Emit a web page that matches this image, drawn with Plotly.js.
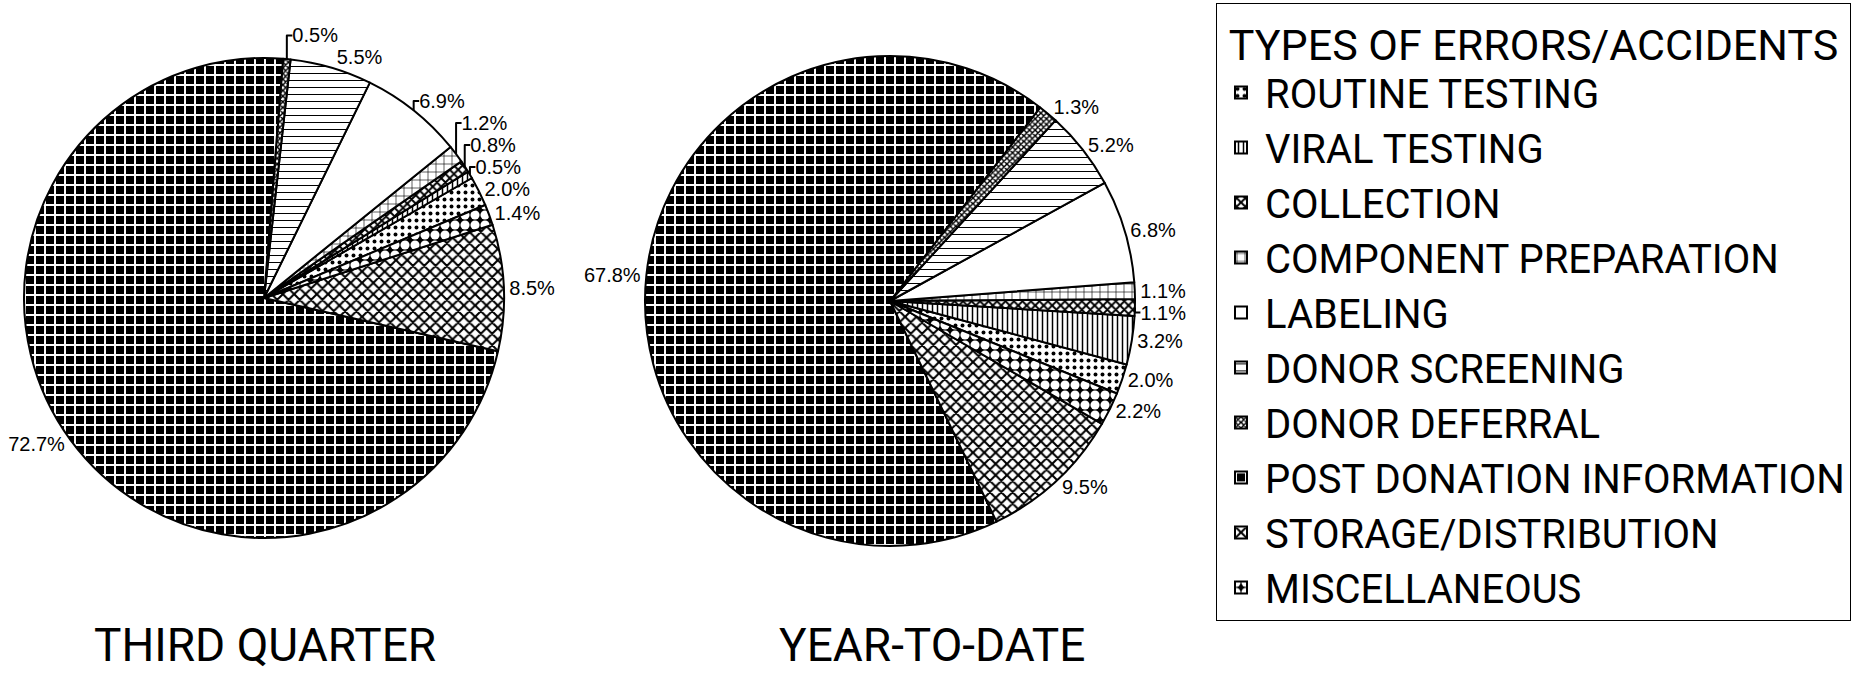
<!DOCTYPE html>
<html><head><meta charset="utf-8">
<script src="https://cdn.plot.ly/plotly-3.0.1.min.js"></script>
<style>html,body{margin:0;padding:0;background:#fff}#chart{width:1865px;height:676px}</style>
</head><body><div id="chart"></div>
<script>
const categories = ['ROUTINE TESTING','VIRAL TESTING','COLLECTION','COMPONENT PREPARATION','LABELING','DONOR SCREENING','DONOR DEFERRAL','POST DONATION INFORMATION','STORAGE/DISTRIBUTION','MISCELLANEOUS'];
const thirdQuarter = [2.0,0.5,0.8,1.2,6.9,5.5,0.5,72.7,8.5,1.4];
const yearToDate = [2.0,3.2,1.1,1.1,6.8,5.2,1.3,67.8,9.5,2.2];
const chartTitles = ['THIRD QUARTER','YEAR-TO-DATE'];
const legendTitle = 'TYPES OF ERRORS/ACCIDENTS';

const W = 1865, H = 676;
const patShape = ['.','|','x','+','','-','x','+','x','.'];
const patFg = ['#000','#000','#000','#000','#000','#000','#000','#fff','#000','#fff'];
const patBg = ['#fff','#fff','#fff','#fff','#fff','#fff','#fff','#000','#fff','#000'];
const patSize = [7,5,6,8,8,7,4,10,8,10];
const patSolid = [0.25,0.3,0.55,0.15,0.3,0.15,0.6,0.35,0.45,0.65];
const FONT = 'Roboto, Liberation Sans, Arial, sans-serif';

function dom(cx, cy, r){
  return {x:[(cx-r)/W,(cx+r)/W], y:[1-(cy+r)/H,1-(cy-r)/H]};
}
function pie(vals, d, rot){
  return {
    type:'pie', labels:categories, values:vals, sort:false,
    direction:'counterclockwise', rotation:rot, domain:d,
    texttemplate:'%{value:.1f}%', textposition:'outside',
    textfont:{family:'Liberation Sans, Arial, sans-serif', size:20, color:'#000'},
    marker:{colors:patBg, line:{color:'#000', width:2},
      pattern:{shape:patShape, fgcolor:patFg, bgcolor:patBg, size:patSize, solidity:patSolid, fillmode:'replace'}},
    hoverinfo:'label+value', automargin:false
  };
}
const data = [pie(thirdQuarter, dom(264,298,240), 60), pie(yearToDate, dom(890,301,245), 105)];
const layout = {
  width:W, height:H, margin:{l:0,r:0,t:0,b:0},
  paper_bgcolor:'#fff', plot_bgcolor:'#fff',
  showlegend:true,
  legend:{x:1216/W, y:1-3/H, xanchor:'left', yanchor:'top', itemwidth:38,
    bordercolor:'#000', borderwidth:1, bgcolor:'#fff',
    font:{family:FONT, size:40, color:'#000'},
    title:{text:legendTitle, side:'top center', font:{family:FONT, size:43, color:'#000'}}},
  annotations:[
    {text:chartTitles[0], x:265/W, y:1-645/H, xref:'paper', yref:'paper', showarrow:false, xanchor:'center', yanchor:'middle',
     font:{family:FONT, size:46, color:'#000'}},
    {text:chartTitles[1], x:932/W, y:1-645/H, xref:'paper', yref:'paper', showarrow:false, xanchor:'center', yanchor:'middle',
     font:{family:FONT, size:46, color:'#000'}}
  ]
};
Plotly.newPlot('chart', data, layout, {displayModeBar:false, staticPlot:true});
</script></body></html>
